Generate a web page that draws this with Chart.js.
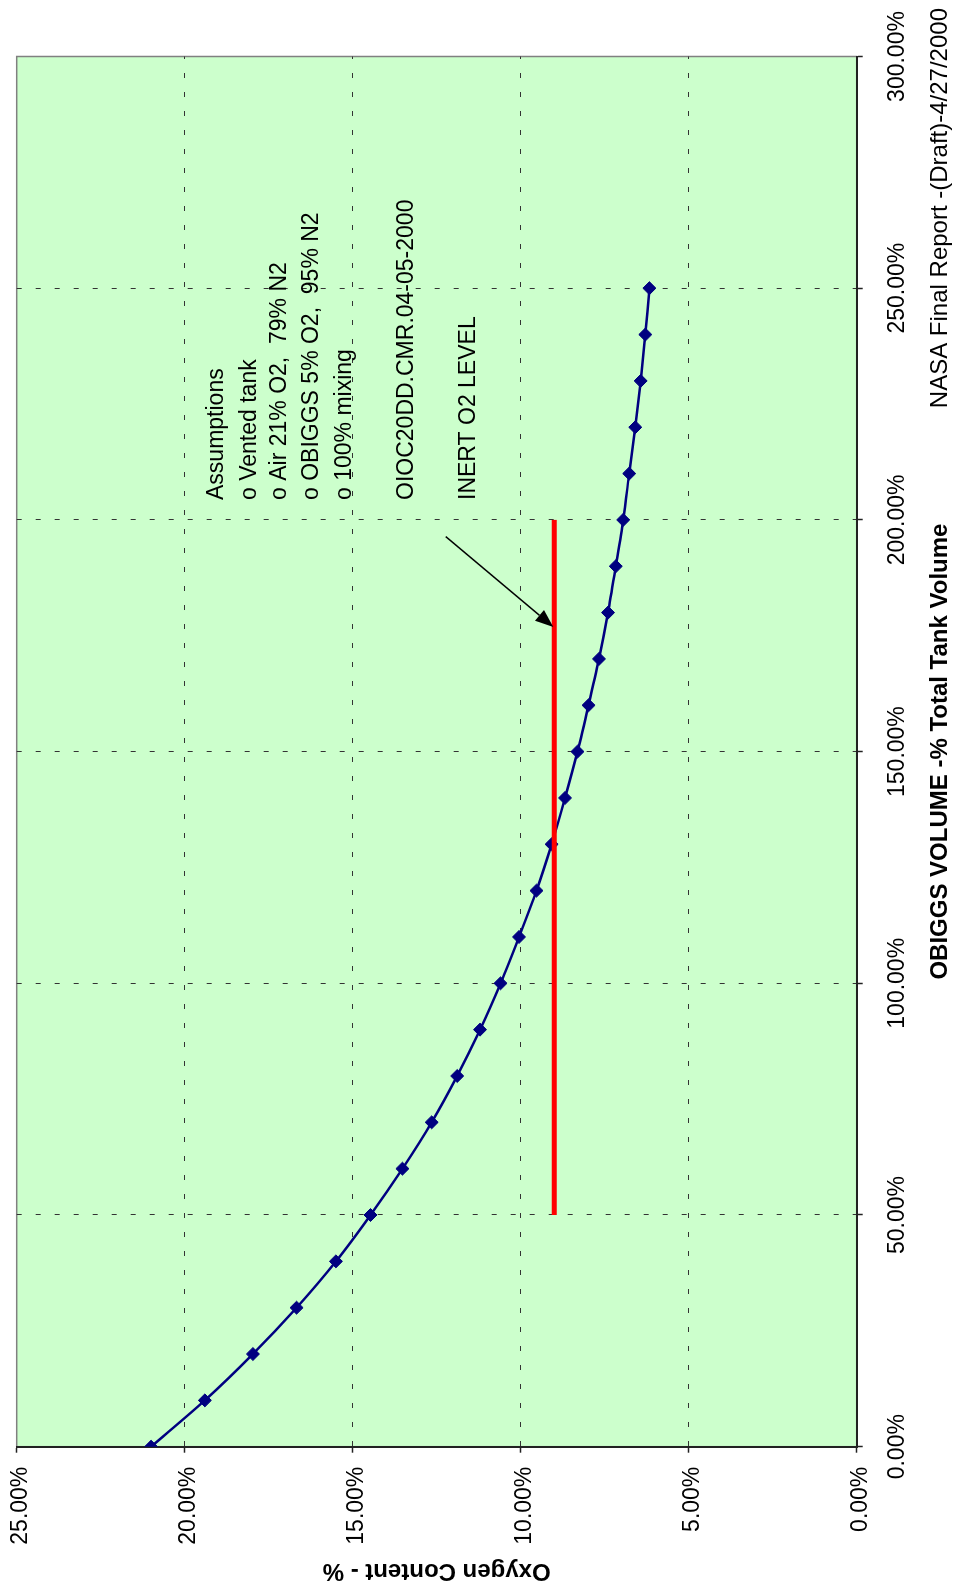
<!DOCTYPE html>
<html>
<head>
<meta charset="utf-8">
<script src="https://cdn.jsdelivr.net/npm/chart.js@4.4.0/dist/chart.umd.min.js"></script>
<style>
  html, body { margin: 0; padding: 0; background: #fff; overflow: hidden; }
  /* chart is drawn landscape and turned a quarter to the left */
  #wrap { position: absolute; left: 0; top: 0; width: 1593px; height: 958px;
          transform-origin: 0 0; transform: translate(0, 1593px) rotate(-90deg); }
</style>
</head>
<body>
<div id="wrap"><canvas id="o2Chart" width="1593" height="958"></canvas></div>
<script>
// OBIGGS volume (% of total tank volume) and resulting O2 content (%)
const volume = [0, 10, 20, 30, 40, 50, 60, 70, 80, 90, 100, 110, 120, 130, 140, 150, 160, 170, 180, 190, 200, 210, 220, 230, 240, 250];
const oxygen = [21.0, 19.40, 17.97, 16.67, 15.50, 14.47, 13.52, 12.65, 11.89, 11.21, 10.60, 10.05, 9.53, 9.08, 8.68, 8.31, 7.98, 7.67, 7.40, 7.17, 6.95, 6.77, 6.59, 6.43, 6.29, 6.17];

// inert O2 level line
const inertVolume = [50, 200];
const inertO2 = [9.0, 9.0];

const volTicks = [0, 50, 100, 150, 200, 250, 300];
const volTickLabels = ['0.00%', '50.00%', '100.00%', '150.00%', '200.00%', '250.00%', '300.00%'];
const o2Ticks = [0, 5, 10, 15, 20, 25];
const o2TickLabels = ['0.00%', '5.00%', '10.00%', '15.00%', '20.00%', '25.00%'];

const notes = ['Assumptions', 'o Vented tank', 'o Air 21% O2,  79% N2', 'o OBIGGS 5% O2,  95% N2', 'o 100% mixing', 'OIOC20DD.CMR.04-05-2000', 'INERT O2 LEVEL'];
const noteO2 = [19.05, 18.06, 17.17, 16.22, 15.23, 13.40, 11.56];
const noteVol = 204.3;
const arrowFrom = [196.4, 12.23];
const arrowTo = [176.9, 9.03];

const footer = 'NASA Final Report -(Draft)-4/27/2000';

const FONT = '"Liberation Sans", Arial, Helvetica, sans-serif';
Chart.defaults.font.family = FONT;
Chart.defaults.color = '#000';

const backdrop = {
  id: 'backdrop',
  beforeDraw(chart) {
    const { ctx, chartArea: a } = chart;
    ctx.save();
    ctx.fillStyle = '#CCFFCC';
    ctx.fillRect(a.left, a.top, a.right - a.left, a.bottom - a.top);
    ctx.strokeStyle = '#808080';
    ctx.lineWidth = 1.5;
    ctx.strokeRect(a.left, a.top, a.right - a.left, a.bottom - a.top);
    ctx.restore();
  }
};

const notesPlugin = {
  id: 'notes',
  afterDatasetsDraw(chart) {
    const { ctx, scales: { x, y } } = chart;
    ctx.save();
    ctx.font = '23px ' + FONT;
    ctx.fillStyle = '#000';
    ctx.textAlign = 'left';
    ctx.textBaseline = 'middle';
    notes.forEach((t, i) => ctx.fillText(t, x.getPixelForValue(noteVol), y.getPixelForValue(noteO2[i])));

    // arrow pointing at the inert line
    const x1 = x.getPixelForValue(arrowFrom[0]), y1 = y.getPixelForValue(arrowFrom[1]);
    const x2 = x.getPixelForValue(arrowTo[0]), y2 = y.getPixelForValue(arrowTo[1]);
    const ang = Math.atan2(y2 - y1, x2 - x1);
    const head = 18, half = 7;
    const bx = x2 - head * Math.cos(ang), by = y2 - head * Math.sin(ang);
    ctx.strokeStyle = '#000';
    ctx.lineWidth = 1.5;
    ctx.beginPath();
    ctx.moveTo(x1, y1);
    ctx.lineTo(bx, by);
    ctx.stroke();
    ctx.beginPath();
    ctx.moveTo(x2, y2);
    ctx.lineTo(bx + half * Math.sin(ang), by - half * Math.cos(ang));
    ctx.lineTo(bx - half * Math.sin(ang), by + half * Math.cos(ang));
    ctx.closePath();
    ctx.fill();
    ctx.restore();
  },
  afterDraw(chart) {
    const { ctx } = chart;
    ctx.save();
    ctx.font = '24px ' + FONT;
    ctx.fillStyle = '#000';
    ctx.textAlign = 'right';
    ctx.textBaseline = 'alphabetic';
    ctx.fillText(footer, 1585, 946.7);
    ctx.restore();
  }
};

const edgeless = (edges) => (c) => (c.tick && edges.includes(c.tick.value)) ? 'rgba(0,0,0,0)' : '#333';

new Chart(document.getElementById('o2Chart').getContext('2d'), {
  type: 'line',
  data: {
    datasets: [
      {
        label: 'O2',
        data: volume.map((v, i) => ({ x: v, y: oxygen[i] })),
        borderColor: '#000080',
        backgroundColor: '#000080',
        borderWidth: 2.5,
        pointStyle: 'rectRot',
        pointRadius: 6.5,
        pointBorderWidth: 1,
        tension: 0.3,
        order: 1
      },
      {
        label: 'Inert',
        data: inertVolume.map((v, i) => ({ x: v, y: inertO2[i] })),
        borderColor: '#FF0000',
        borderWidth: 5,
        pointRadius: 0,
        order: 0
      }
    ]
  },
  options: {
    responsive: false,
    animation: false,
    devicePixelRatio: 1,
    layout: { padding: { left: 0, top: 16.7, right: 56.5, bottom: 0 } },
    plugins: { legend: { display: false }, tooltip: { enabled: false } },
    scales: {
      x: {
        type: 'linear', min: 0, max: 300,
        afterBuildTicks: s => { s.ticks = volTicks.map(v => ({ value: v })); },
        ticks: { callback: v => volTickLabels[volTicks.indexOf(v)], font: { size: 23 }, color: '#000', padding: 21, maxRotation: 0, autoSkip: false },
        grid: { color: edgeless([0, 300]), lineWidth: 1, tickColor: '#222', tickLength: 6, tickWidth: 1.5, tickBorderDash: [] },
        border: { color: '#222', width: 2, dash: [5, 14] },
        title: { display: true, text: 'OBIGGS VOLUME -% Total Tank Volume', font: { size: 24, weight: 'bold' }, color: '#000', padding: { top: 0, bottom: 3 } },
        afterFit: s => { s.height = 101.3; s.paddingLeft = 0; s.paddingRight = 0; }
      },
      y: {
        type: 'linear', min: 0, max: 25,
        afterBuildTicks: s => { s.ticks = o2Ticks.map(v => ({ value: v })); },
        ticks: { callback: v => o2TickLabels[o2Ticks.indexOf(v)], font: { size: 23 }, color: '#000', padding: 14, labelOffset: 4, autoSkip: false },
        grid: { color: edgeless([0, 25]), lineWidth: 1, tickColor: '#222', tickLength: 6, tickWidth: 1.5, tickBorderDash: [] },
        border: { color: '#222', width: 2, dash: [5, 14] },
        title: { display: true, text: 'Oxygen Content - %', font: { size: 24, weight: 'bold' }, color: '#000', padding: { top: 8, bottom: 0 } },
        afterFit: s => { s.width = 146.3; s.paddingTop = 0; s.paddingBottom = 0; }
      }
    }
  },
  plugins: [backdrop, notesPlugin]
});
</script>
</body>
</html>
